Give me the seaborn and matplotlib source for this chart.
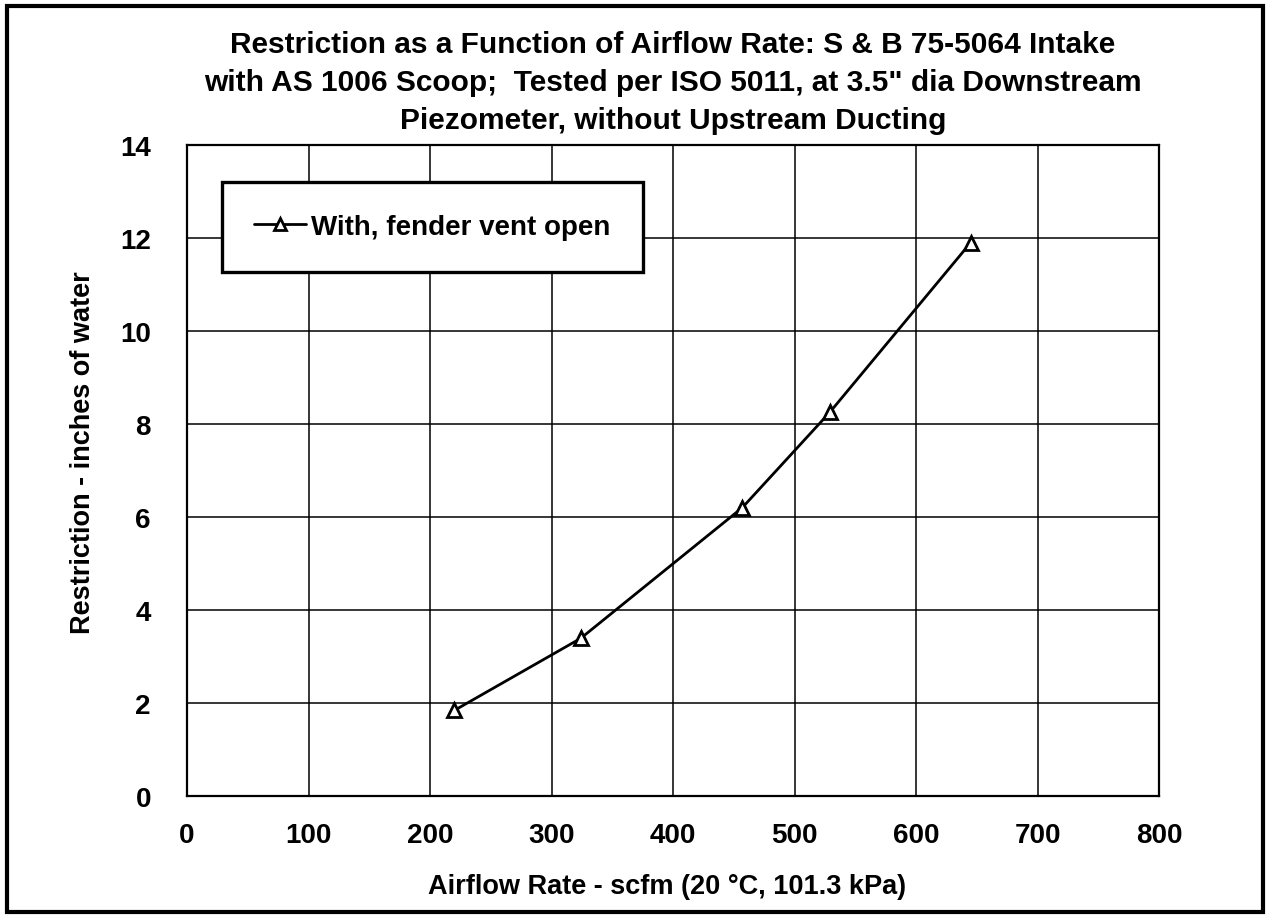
import seaborn as sns
import matplotlib.pyplot as plt
import pandas as pd
from matplotlib.patches import Rectangle

airflow = [220, 324, 457, 529, 645]
restriction = [1.84, 3.39, 6.2, 8.25, 11.9]
series_name = 'With, fender vent open'
x_ticks = [0, 100, 200, 300, 400, 500, 600, 700, 800]
y_ticks = [0, 2, 4, 6, 8, 10, 12, 14]

data = pd.DataFrame({'airflow': airflow, 'restriction': restriction, 'series': series_name})

sns.set_style('white')
plt.rcParams['font.family'] = ['Liberation Sans', 'DejaVu Sans']
plt.rcParams['font.weight'] = 'bold'
plt.rcParams['text.color'] = 'black'
plt.rcParams['xtick.color'] = 'black'
plt.rcParams['ytick.color'] = 'black'

W, H = 1270, 920
fig = plt.figure(figsize=(12.7, 9.2), dpi=100)
ax = fig.add_axes([187 / W, 1 - 797 / H, (1159 - 187) / W, (797 - 146) / H])

sns.lineplot(data=data, x='airflow', y='restriction', hue='series', palette=['black'],
             marker='^', markersize=10, markerfacecolor='white', markeredgecolor='black',
             markeredgewidth=2, linewidth=2, ax=ax)

ax.set_xlim(0, 800)
ax.set_ylim(0, 14)
ax.set_xticks(x_ticks)
ax.set_yticks(y_ticks)
ax.tick_params(axis='both', length=0, labelsize=20)
ax.tick_params(axis='x', pad=19)
ax.tick_params(axis='y', pad=26)
for lab in ax.get_xticklabels() + ax.get_yticklabels():
    lab.set_fontweight('bold')
ax.grid(True, color='black', linewidth=1.1)
for s in ax.spines.values():
    s.set_color('black')
    s.set_linewidth(1.6)
ax.set_xlabel('')
ax.set_ylabel('')

fig.text(667 / W, 1 - 887 / H, 'Airflow Rate - scfm (20 °C, 101.3 kPa)',
         ha='center', va='center', fontsize=19.5, fontweight='bold')
fig.text(83 / W, 1 - 453 / H, 'Restriction - inches of water', rotation=90,
         ha='center', va='center', fontsize=19.5, fontweight='bold')

title_lines = ['Restriction as a Function of Airflow Rate: S & B 75-5064 Intake',
               'with AS 1006 Scoop;  Tested per ISO 5011, at 3.5" dia Downstream',
               'Piezometer, without Upstream Ducting']
for line, yc in zip(title_lines, [45, 83, 121]):
    fig.text(673 / W, 1 - yc / H, line, ha='center', va='center', fontsize=21.5, fontweight='bold')

leg = ax.legend(loc='upper left', bbox_to_anchor=(222 / W, 1 - 183 / H),
                bbox_transform=fig.transFigure, frameon=True, fancybox=False,
                fontsize=20, handlelength=1.87, handletextpad=0.2, borderpad=1.15,
                borderaxespad=0, markerscale=0.8)
leg.get_frame().set_edgecolor('black')
leg.get_frame().set_linewidth(2.4)
leg.get_frame().set_alpha(1)
for t in leg.get_texts():
    t.set_fontweight('bold')

fig.patches.append(Rectangle((7 / W, 7 / H), 1256 / W, 906 / H, transform=fig.transFigure,
                             fill=False, edgecolor='black', linewidth=3))

fig.savefig('out.png', dpi=100)
